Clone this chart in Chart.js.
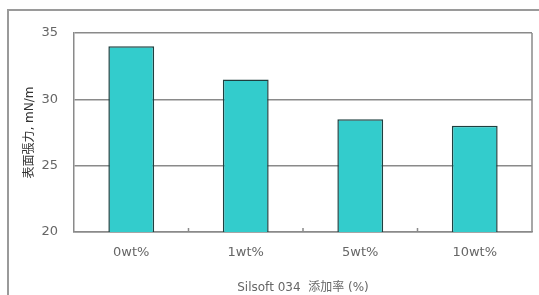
<!DOCTYPE html>
<html>
<head>
<meta charset="utf-8">
<script src="https://cdn.jsdelivr.net/npm/chart.js@4"></script>
<style>
  html, body { margin: 0; padding: 0; background: #fff; }
  #wrap { position: relative; width: 539px; height: 295px; overflow: hidden; }
  #frame {
    position: absolute; left: 7px; top: 9px; width: 600px; height: 400px;
    border-left: 2px solid #9a9a9a; border-top: 2px solid #9a9a9a;
  }
  canvas { position: absolute; left: 0; top: 0; }
</style>
</head>
<body>
<div id="wrap">
  <div id="frame"></div>
  <canvas id="chart" width="539" height="295"></canvas>
</div>
<script>
// Silsoft 034 添加率ごとの表面張力
const categories = ['0wt%', '1wt%', '5wt%', '10wt%'];
const tensionValues = [34, 31.5, 28.5, 28];
const yTicks = [20, 25, 30, 35];

const fontFamily = "'DejaVu Sans', 'Noto Sans CJK JP', sans-serif";

// 下辺のカテゴリ境界の小さな目盛りと右枠線
const plotExtras = {
    id: 'plotExtras',
    afterDatasetsDraw(chart) {
        const ctx = chart.ctx;
        const x = chart.scales.x;
        const area = chart.chartArea;
        ctx.save();
        ctx.strokeStyle = '#8a8a8a';
        ctx.lineWidth = 1.5;
        for (let i = 1; i < categories.length; i++) {
            const px = (x.getPixelForValue(i - 1) + x.getPixelForValue(i)) / 2;
            ctx.beginPath();
            ctx.moveTo(px, area.bottom);
            ctx.lineTo(px, area.bottom - 4);
            ctx.stroke();
        }
        ctx.beginPath();
        ctx.moveTo(area.right, area.top);
        ctx.lineTo(area.right, area.bottom);
        ctx.stroke();
        ctx.restore();
    }
};

new Chart(document.getElementById('chart'), {
    type: 'bar',
    data: {
        labels: categories,
        datasets: [{
            data: tensionValues,
            backgroundColor: '#33cccc',
            borderColor: '#1f3f3f',
            borderWidth: 1.5,
            barPercentage: 1,
            categoryPercentage: 0.4,
            borderSkipped: false
        }]
    },
    options: {
        responsive: false,
        animation: false,
        layout: { padding: { left: 0, right: 7, top: 33, bottom: 0 } },
        plugins: {
            legend: { display: false },
            tooltip: { enabled: false }
        },
        scales: {
            y: {
                min: 20,
                max: 35,
                afterBuildTicks(scale) {
                    scale.ticks = yTicks.map(v => ({ value: v }));
                },
                afterFit(scale) { scale.width = 74; },
                grid: { color: '#8a8a8a', lineWidth: 1.5, drawTicks: false },
                border: { color: '#8a8a8a', width: 1.5 },
                ticks: {
                    padding: 16,
                    color: '#666',
                    font: { family: fontFamily, size: 13 }
                },
                title: {
                    display: true,
                    text: '表面張力, mN/m',
                    color: '#333',
                    padding: { top: 23, bottom: 0 },
                    font: { family: fontFamily, size: 12 }
                }
            },
            x: {
                afterFit(scale) { scale.height = 63; },
                grid: { display: false, drawTicks: false },
                border: { color: '#8a8a8a', width: 1.5 },
                ticks: {
                    padding: 13,
                    color: '#666',
                    font: { family: fontFamily, size: 13 }
                },
                title: {
                    display: true,
                    text: 'Silsoft 034  添加率 (%)',
                    color: '#666',
                    padding: { top: 6, bottom: 0 },
                    font: { family: fontFamily, size: 12 }
                }
            }
        }
    },
    plugins: [plotExtras]
});
</script>
</body>
</html>
